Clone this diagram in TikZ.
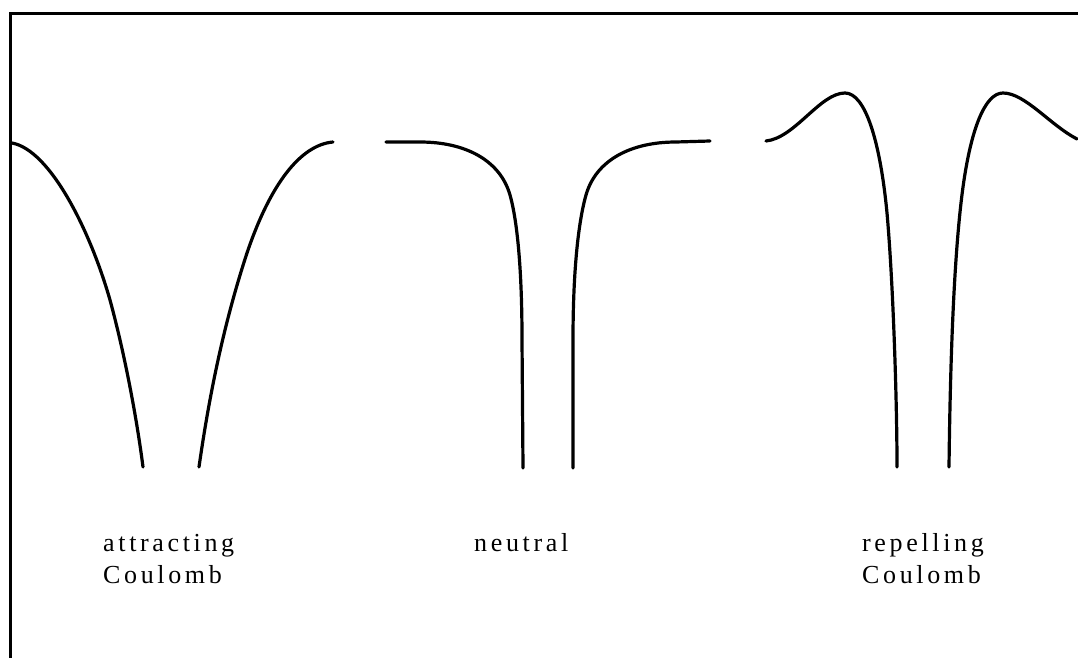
\documentclass[tikz,border=0pt]{standalone}
\usepackage{fontspec}
\newfontfamily\labfont[LetterSpace=14]{Liberation Serif}
\begin{document}
\begin{tikzpicture}[x=1pt,y=-1pt,
  curve/.style={line width=3.2pt, line cap=round, line join=round},
  frame/.style={line width=3.2pt},
  lab/.style={anchor=base west, inner sep=0pt, font=\labfont\fontsize{26}{30}\selectfont}]
\useasboundingbox (0,0) rectangle (1078,658);
% frame (top and left only)
\draw[frame] (10.5,658) -- (10.5,13.5) -- (1078,13.5);
% attracting Coulomb
\draw[curve] (12,143) .. controls (50,150) and (90,230) .. (110,300)
  .. controls (125,355) and (137,420) .. (143,467);
\draw[curve] (199,467) .. controls (210,390) and (225,320) .. (247,253)
  .. controls (270,185) and (300,145) .. (333,142);
% neutral
\draw[curve] (386,142) -- (420,142) .. controls (465,142) and (500,160) .. (510,195)
  .. controls (516,216) and (522,260) .. (522,340) -- (523,468);
\draw[curve] (573,468) -- (573,340) .. controls (573,260) and (580,216) .. (586,195)
  .. controls (596,160) and (631,142) .. (676,142) -- (710,141);
% repelling Coulomb
\draw[curve] (766,141) .. controls (795,138) and (820,93) .. (845,93)
  .. controls (865,93) and (880,140) .. (887,213)
  .. controls (893,280) and (897,400) .. (897,467);
\draw[curve] (949,467) .. controls (950,380) and (953,260) .. (963,187)
  .. controls (971,129) and (985,93) .. (1003,93)
  .. controls (1025,93) and (1050,125) .. (1077,139);
% labels
\node[lab] (a1) at (103,551) {attracting};
\node[lab] (a2) at (103,583) {Coulomb};
\node[lab] (n1) at (474,551) {neutral};
\node[lab] (r1) at (862,551) {repelling};
\node[lab] (r2) at (862,583) {Coulomb};
\end{tikzpicture}
\end{document}
